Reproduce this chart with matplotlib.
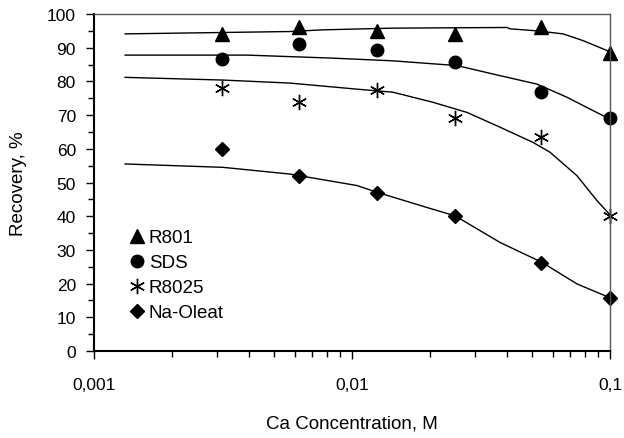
import numpy as np
import matplotlib
matplotlib.use('Agg')
import matplotlib.pyplot as plt
from matplotlib.ticker import FixedLocator, FixedFormatter, LogLocator, MultipleLocator, NullFormatter

plt.rcParams['font.family'] = ['Liberation Sans', 'DejaVu Sans']

# Datos medidos
conc = [0.003125, 0.00625, 0.0125, 0.025, 0.054, 0.1]
r801 = [94, 96, 95, 94, 96, 88.3]
sds = [86.6, 91, 89.2, 85.7, 77, 69]
r8025 = [78, 74, 77.4, 69, 63.6, 40]
na_oleat = [60, 52, 47, 40, 26.1, 15.6]

# Curvas de ajuste
c_r801 = [0.00132, 0.00575, 0.00772, 0.0144, 0.0399, 0.0410, 0.0521, 0.0658, 0.0786, 0.1]
y_r801 = [94.1, 94.8, 95.3, 95.8, 96.0, 95.6, 95.0, 94.1, 92.1, 88.8]
c_sds = [0.00132, 0.00392, 0.00844, 0.0144, 0.0255, 0.0375, 0.0521, 0.0681, 0.0836, 0.1]
y_sds = [87.8, 87.8, 86.9, 86.1, 84.7, 81.7, 79.2, 75.3, 71.8, 68.8]
c_r8025 = [0.00132, 0.00316, 0.00575, 0.01045, 0.0144, 0.0206, 0.0279, 0.0375, 0.0503, 0.0585, 0.0745, 0.0891, 0.1]
y_r8025 = [81.2, 80.4, 79.5, 77.7, 76.8, 73.8, 70.8, 66.4, 61.9, 59.0, 52.0, 44.6, 40.4]
c_na = [0.00132, 0.00316, 0.00575, 0.01045, 0.0125, 0.0195, 0.0251, 0.0375, 0.0545, 0.0745, 0.1]
y_na = [55.5, 54.5, 52.5, 49.1, 47.1, 42.6, 40.1, 32.2, 26.3, 19.9, 15.8]

fig = plt.figure(figsize=(6.24, 4.39), dpi=100)
ax = fig.add_axes([94/624, 87/439, 516/624, 337/439])

for cx, cy in [(c_r801, y_r801), (c_sds, y_sds), (c_r8025, y_r8025), (c_na, y_na)]:
    ax.plot(cx, cy, color='black', lw=1.0)

ax.plot(conc, r801, '^', color='black', ms=10, ls='none', clip_on=False, label='R801')
ax.plot(conc, sds, 'o', color='black', ms=9, ls='none', clip_on=False, label='SDS')
ax.plot(conc, r8025, marker=(6, 2, 0), color='black', ms=11, mew=1.0, ls='none', clip_on=False, label='R8025')
ax.plot(conc, na_oleat, 'D', color='black', ms=7, ls='none', clip_on=False, label='Na-Oleat')

ax.set_xscale('log')
ax.set_xlim(0.001, 0.1)
ax.set_ylim(0, 100)
ax.xaxis.set_major_locator(FixedLocator([0.001, 0.01, 0.1]))
ax.xaxis.set_major_formatter(FixedFormatter(['0,001', '0,01', '0,1']))
ax.xaxis.set_minor_locator(LogLocator(base=10, subs=np.arange(2, 10)))
ax.xaxis.set_minor_formatter(NullFormatter())
ax.yaxis.set_major_locator(MultipleLocator(10))
ax.yaxis.set_minor_locator(MultipleLocator(5))

ax.tick_params(which='major', direction='out', length=6, width=1, labelsize=12.5)
ax.tick_params(which='minor', direction='out', length=4, width=1)
ax.tick_params(axis='y', which='major', pad=7)
ax.tick_params(axis='x', which='major', pad=13)

for s in ['left', 'bottom']:
    ax.spines[s].set_linewidth(1.5)
for s in ['top', 'right']:
    ax.spines[s].set_linewidth(1.0)
    ax.spines[s].set_color('#555555')

ax.set_xlabel('Ca Concentration, M', fontsize=13.5, labelpad=16)
ax.set_ylabel('Recovery, %', fontsize=13.5, labelpad=14)

ax.legend(loc='lower left', bbox_to_anchor=(0.05, 0.06), frameon=False, fontsize=13.5,
          handlelength=0.8, handletextpad=0.25, labelspacing=0.42, borderpad=0)

fig.savefig('out.png', dpi=100)
